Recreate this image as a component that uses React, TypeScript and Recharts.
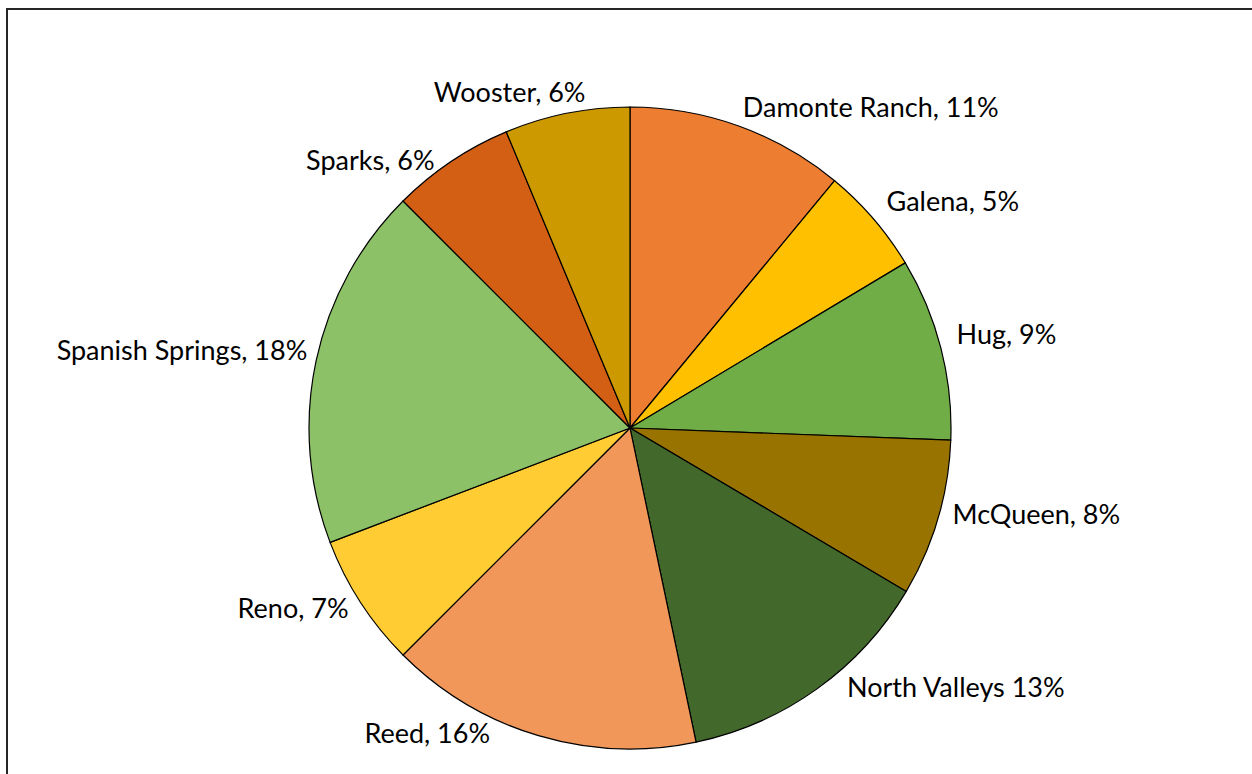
import React from "react";
import { PieChart, Pie, Cell } from "recharts";

const schools = [
  "Damonte Ranch",
  "Galena",
  "Hug",
  "McQueen",
  "North Valleys",
  "Reed",
  "Reno",
  "Spanish Springs",
  "Sparks",
  "Wooster",
];
const shares = [11.0, 5.4, 9.2, 7.9, 13.2, 15.8, 6.7, 18.3, 6.2, 6.3];
const labelTexts = [
  "Damonte Ranch, 11%",
  "Galena, 5%",
  "Hug, 9%",
  "McQueen, 8%",
  "North Valleys 13%",
  "Reed, 16%",
  "Reno, 7%",
  "Spanish Springs, 18%",
  "Sparks, 6%",
  "Wooster, 6%",
];

const COLORS = [
  "#ED7D31",
  "#FFC000",
  "#70AD47",
  "#997300",
  "#43682B",
  "#F1975A",
  "#FFCD33",
  "#8CC168",
  "#D35F14",
  "#CC9900",
];

// best-fit style label nudges (dx, dy) relative to the generic placement
const NUDGE: [number, number][] = [
  [0, 0],
  [4, -2],
  [4, -4],
  [3, 0],
  [23, -4],
  [-45, -7],
  [-2, 6],
  [3, -1],
  [-10, 16],
  [21, -2],
];

const data = schools.map((name, i) => ({ name, value: shares[i], label: labelTexts[i] }));

const RAD = Math.PI / 180;

const renderLabel = (props: any) => {
  const { cx, cy, midAngle, outerRadius, index } = props;
  const r = outerRadius + 12;
  const cos = Math.cos(-midAngle * RAD);
  const sin = Math.sin(-midAngle * RAD);
  const px = cx + r * cos;
  const py = cy + r * sin;
  const anchor = cos >= 0 ? "start" : "end";
  const [dx, dy] = NUDGE[index] || [0, 0];
  return (
    <text
      x={px + dx}
      y={py - 8 + dy}
      textAnchor={anchor}
      dominantBaseline="central"
      fill="#000"
      fontFamily="Lato, 'Noto Sans', sans-serif"
      fontSize={27}
    >
      {data[index].label}
    </text>
  );
};

export default function App() {
  return (
    <div>
      <style>{"body{margin:0;overflow:hidden;background:#fff}"}</style>
      <div
        style={{
          position: "absolute",
          left: 6,
          top: 8,
          width: 1246,
          height: 766,
          borderLeft: "2px solid #262626",
          borderTop: "2px solid #262626",
          boxSizing: "border-box",
          overflow: "hidden",
          background: "#fff",
        }}
      >
        <PieChart width={1244} height={764} margin={{ top: 0, right: 0, bottom: 0, left: 0 }}>
          <Pie
            data={data}
            dataKey="value"
            nameKey="name"
            cx={622}
            cy={418}
            outerRadius={321}
            startAngle={90}
            endAngle={-270}
            stroke="#000"
            strokeWidth={1.2}
            label={renderLabel}
            labelLine={false}
            isAnimationActive={false}
          >
            {data.map((d, i) => (
              <Cell key={d.name} fill={COLORS[i]} />
            ))}
          </Pie>
        </PieChart>
      </div>
    </div>
  );
}
